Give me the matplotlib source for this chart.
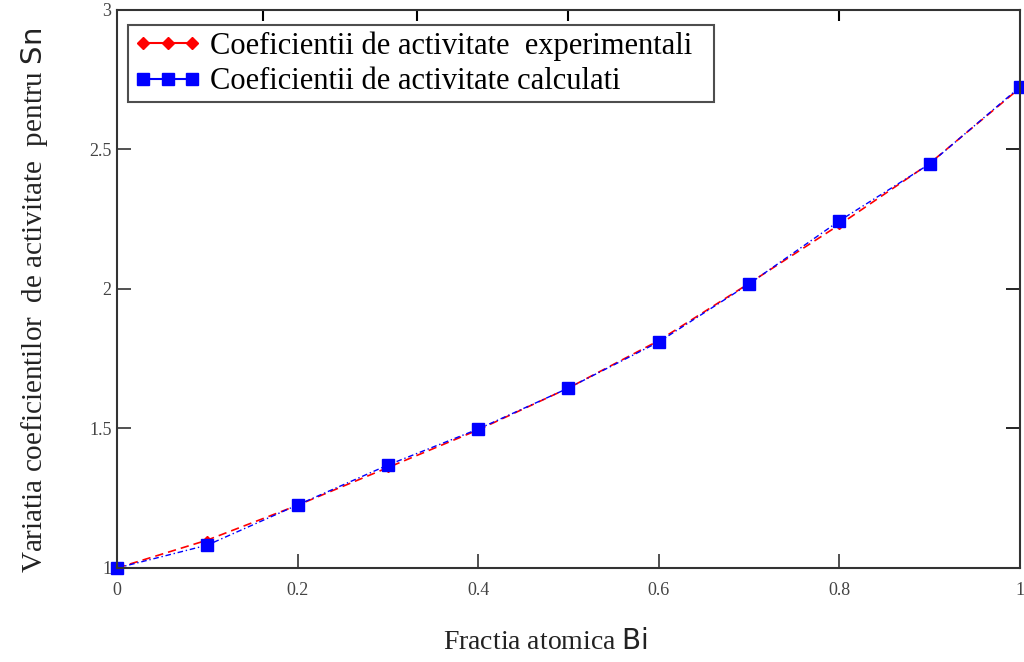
import numpy as np
import matplotlib.pyplot as plt
from matplotlib.lines import Line2D

# Data
x_bi = [0.0, 0.1, 0.2, 0.3, 0.4, 0.5, 0.6, 0.7, 0.8, 0.9, 1.0]
gamma_exp = [1.0, 1.10, 1.225, 1.36, 1.495, 1.645, 1.815, 2.02, 2.23, 2.45, 2.72]
gamma_calc = [1.0, 1.082, 1.226, 1.369, 1.498, 1.645, 1.81, 2.018, 2.244, 2.448, 2.724]

plt.rcParams['font.family'] = ['Liberation Serif', 'DejaVu Serif']

fig = plt.figure(figsize=(10.24, 6.62), dpi=100)
ax = fig.add_axes([0.1143, 0.142, 0.8817, 0.843])

ax.plot(x_bi, gamma_exp, color="red", linestyle=(0, (5, 3)), linewidth=1.2,
        marker="D", markersize=4, markevery=[1, 2, 3, 4, 5, 6, 7, 8, 9, 10],
        clip_on=False)
ax.plot(x_bi, gamma_calc, color="blue", linestyle=(0, (4, 2, 1, 2)), linewidth=1.0,
        marker="s", markersize=9, clip_on=False)

ax.set_xlim(0, 1)
ax.set_ylim(1, 3)
ax.set_xticks([0, 0.2, 0.4, 0.6, 0.8, 1])
ax.set_xticklabels(["0", "0.2", "0.4", "0.6", "0.8", "1"])
ax.set_yticks([1, 1.5, 2, 2.5, 3])
ax.set_yticklabels(["1", "1.5", "2", "2.5", "3"])
ax.tick_params(direction="in", length=10, width=1.2, labelsize=13,
               colors="#333333", labelcolor="#444444", pad=10)
ax.tick_params(axis="y", pad=4)

# odd ticks on the top edge
sec = ax.secondary_xaxis("top")
sec.set_xticks([0.162, 0.332, 0.5, 0.8])
sec.set_xticklabels([])
sec.tick_params(direction="in", length=8, width=1.5)
sec.spines["top"].set_visible(False)

# right ticks
sec_y = ax.secondary_yaxis("right")
sec_y.set_yticks([1.5, 2, 2.5])
sec_y.set_yticklabels([])
sec_y.tick_params(direction="in", length=10, width=1.2)
sec_y.spines["right"].set_visible(False)

for sp in ax.spines.values():
    sp.set_linewidth(1.5)
    sp.set_color("#333333")

ax.set_xlabel("Fractia atomica $\\mathsf{Bi}$", fontsize=20, labelpad=22, color="#222222",
              x=0.475)
ax.set_ylabel("Variatia coeficientilor  de activitate  pentru $\\mathsf{Sn}$", fontsize=21,
              labelpad=28, color="#222222", y=0.48)

handles = [
    Line2D([], [], color="red", linestyle="-", marker="D", markersize=6, linewidth=1.5),
    Line2D([], [], color="blue", linestyle="-", marker="s", markersize=8, linewidth=1.5),
]
leg = ax.legend(handles, ["Coeficientii de activitate  experimentali  ",
                          "Coeficientii de activitate calculati"],
                loc="upper left", bbox_to_anchor=(0.012, 0.973), fontsize=22,
                frameon=True, fancybox=False, edgecolor="#222222",
                handlelength=2.2, handletextpad=0.3, borderpad=0.2,
                labelspacing=0.22, borderaxespad=0, numpoints=3)
leg.get_frame().set_linewidth(1.5)

fig.savefig("out.png", dpi=100)
